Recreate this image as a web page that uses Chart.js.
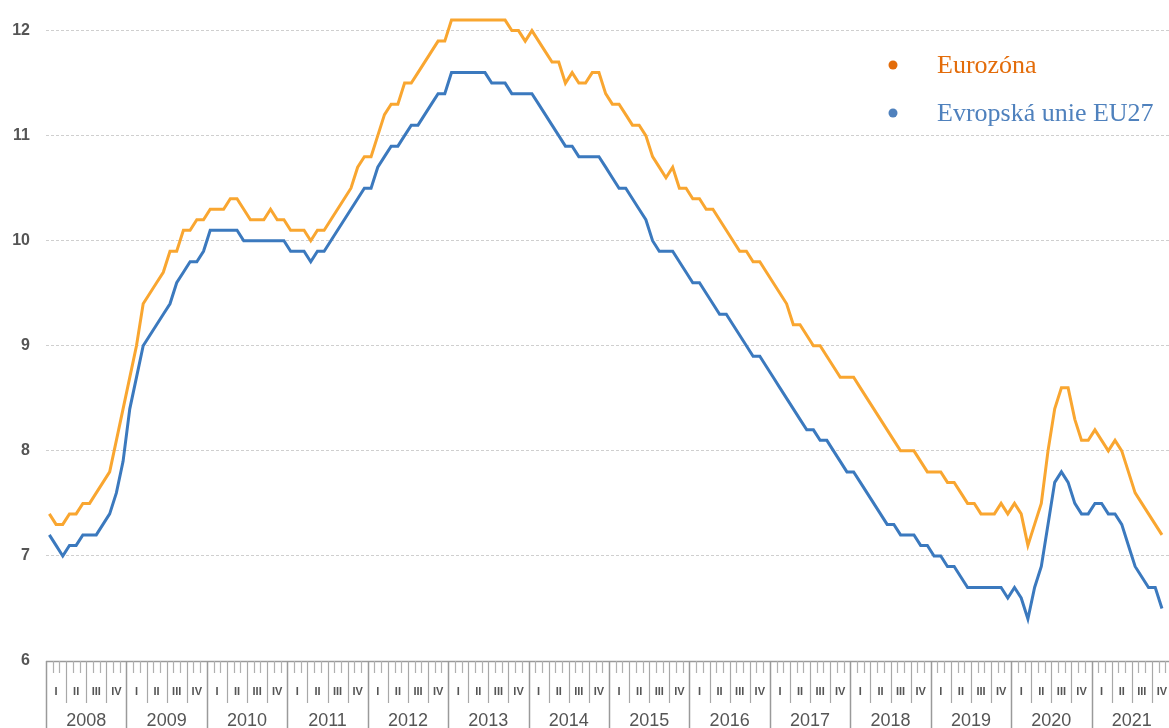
<!DOCTYPE html>
<html>
<head>
<meta charset="utf-8">
<script src="https://cdn.jsdelivr.net/npm/chart.js@4.4.1/dist/chart.umd.min.js"></script>
<style>
  html, body { margin: 0; padding: 0; background: #ffffff; overflow: hidden; width: 1169px; height: 728px; }
  #wrap { position: absolute; left: 0; top: 0; width: 1172px; height: 728px; }
</style>
</head>
<body>
<div id="wrap"><canvas id="c" width="1172" height="728"></canvas></div>
<script>
// ---- data ----
const years = [2008, 2009, 2010, 2011, 2012, 2013, 2014, 2015, 2016, 2017, 2018, 2019, 2020, 2021];
const quarterLabels = ['I', 'II', 'III', 'IV'];
const seriesNames = ['Eurozóna', 'Evropská unie EU27'];
const yTicks = [6, 7, 8, 9, 10, 11, 12];

// monthly unemployment rate, Jan 2008 – Nov 2021
const eurozone = [
  7.4, 7.3, 7.3, 7.4, 7.4, 7.5, 7.5, 7.6, 7.7, 7.8, 8.1, 8.4,
  8.7, 9.0, 9.4, 9.5, 9.6, 9.7, 9.9, 9.9, 10.1, 10.1, 10.2, 10.2,
  10.3, 10.3, 10.3, 10.4, 10.4, 10.3, 10.2, 10.2, 10.2, 10.3, 10.2, 10.2,
  10.1, 10.1, 10.1, 10.0, 10.1, 10.1, 10.2, 10.3, 10.4, 10.5, 10.7, 10.8,
  10.8, 11.0, 11.2, 11.3, 11.3, 11.5, 11.5, 11.6, 11.7, 11.8, 11.9, 11.9,
  12.1, 12.1, 12.1, 12.1, 12.1, 12.1, 12.1, 12.1, 12.1, 12.0, 12.0, 11.9,
  12.0, 11.9, 11.8, 11.7, 11.7, 11.5, 11.6, 11.5, 11.5, 11.6, 11.6, 11.4,
  11.3, 11.3, 11.2, 11.1, 11.1, 11.0, 10.8, 10.7, 10.6, 10.7, 10.5, 10.5,
  10.4, 10.4, 10.3, 10.3, 10.2, 10.1, 10.0, 9.9, 9.9, 9.8, 9.8, 9.7,
  9.6, 9.5, 9.4, 9.2, 9.2, 9.1, 9.0, 9.0, 8.9, 8.8, 8.7, 8.7,
  8.7, 8.6, 8.5, 8.4, 8.3, 8.2, 8.1, 8.0, 8.0, 8.0, 7.9, 7.8,
  7.8, 7.8, 7.7, 7.7, 7.6, 7.5, 7.5, 7.4, 7.4, 7.4, 7.5, 7.4,
  7.5, 7.4, 7.1, 7.3, 7.5, 8.0, 8.4, 8.6, 8.6, 8.3, 8.1, 8.1,
  8.2, 8.1, 8.0, 8.1, 8.0, 7.8, 7.6, 7.5, 7.4, 7.3, 7.2
];
const eu27 = [
  7.2, 7.1, 7.0, 7.1, 7.1, 7.2, 7.2, 7.2, 7.3, 7.4, 7.6, 7.9,
  8.4, 8.7, 9.0, 9.1, 9.2, 9.3, 9.4, 9.6, 9.7, 9.8, 9.8, 9.9,
  10.1, 10.1, 10.1, 10.1, 10.1, 10.0, 10.0, 10.0, 10.0, 10.0, 10.0, 10.0,
  9.9, 9.9, 9.9, 9.8, 9.9, 9.9, 10.0, 10.1, 10.2, 10.3, 10.4, 10.5,
  10.5, 10.7, 10.8, 10.9, 10.9, 11.0, 11.1, 11.1, 11.2, 11.3, 11.4, 11.4,
  11.6, 11.6, 11.6, 11.6, 11.6, 11.6, 11.5, 11.5, 11.5, 11.4, 11.4, 11.4,
  11.4, 11.3, 11.2, 11.1, 11.0, 10.9, 10.9, 10.8, 10.8, 10.8, 10.8, 10.7,
  10.6, 10.5, 10.5, 10.4, 10.3, 10.2, 10.0, 9.9, 9.9, 9.9, 9.8, 9.7,
  9.6, 9.6, 9.5, 9.4, 9.3, 9.3, 9.2, 9.1, 9.0, 8.9, 8.9, 8.8,
  8.7, 8.6, 8.5, 8.4, 8.3, 8.2, 8.2, 8.1, 8.1, 8.0, 7.9, 7.8,
  7.8, 7.7, 7.6, 7.5, 7.4, 7.3, 7.3, 7.2, 7.2, 7.2, 7.1, 7.1,
  7.0, 7.0, 6.9, 6.9, 6.8, 6.7, 6.7, 6.7, 6.7, 6.7, 6.7, 6.6,
  6.7, 6.6, 6.4, 6.7, 6.9, 7.3, 7.7, 7.8, 7.7, 7.5, 7.4, 7.4,
  7.5, 7.5, 7.4, 7.4, 7.3, 7.1, 6.9, 6.8, 6.7, 6.7, 6.5
];

// monthly categories built from the year list
const months = [];
years.forEach(y => { for (let m = 1; m <= 12; m++) months.push(y + '-' + (m < 10 ? '0' + m : m)); });

const lineColors = ['#F9A630', '#3B79BE'];
const legendColors = ['#E36C0A', '#4F81BD'];

// ---- custom multi-level x axis ----
const axisPlugin = {
  id: 'axisPlugin',
  afterDraw(chart) {
    const ctx = chart.ctx;
    const xs = chart.scales.x;
    const area = chart.chartArea;
    const w = xs.getPixelForValue(1) - xs.getPixelForValue(0);
    const b = k => xs.getPixelForValue(0) - w / 2 + k * w;
    const y0 = area.bottom;
    ctx.save();
    ctx.strokeStyle = '#9a9a9a';
    ctx.lineWidth = 1.5;
    ctx.beginPath();
    ctx.moveTo(b(0), y0 + 0.5);
    ctx.lineTo(b(months.length) + 2, y0 + 0.5);
    ctx.stroke();
    for (let k = 0; k <= months.length; k++) {
      const x = Math.round(b(k)) + 0.5;
      ctx.beginPath();
      if (k % 12 === 0) {
        ctx.strokeStyle = '#9a9a9a'; ctx.lineWidth = 1.5;
        ctx.moveTo(x, y0); ctx.lineTo(x, 728);
      } else if (k % 3 === 0) {
        ctx.strokeStyle = '#a8a8a8'; ctx.lineWidth = 1.2;
        ctx.moveTo(x, y0); ctx.lineTo(x, y0 + 42);
      } else {
        ctx.strokeStyle = '#b0b0b0'; ctx.lineWidth = 1.2;
        ctx.moveTo(x, y0); ctx.lineTo(x, y0 + 12);
      }
      ctx.stroke();
    }
    ctx.fillStyle = '#555';
    ctx.textAlign = 'center';
    ctx.textBaseline = 'middle';
    ctx.font = 'bold 11px "Liberation Sans", Arial, sans-serif';
    years.forEach((yr, yi) => {
      quarterLabels.forEach((q, qi) => {
        const k = yi * 12 + qi * 3;
        ctx.fillText(q, b(k) + 1.5 * w, y0 + 31);
      });
    });
    ctx.font = '18px "Liberation Sans", Arial, sans-serif';
    years.forEach((yr, yi) => {
      ctx.fillText(String(yr), b(yi * 12) + 6 * w, y0 + 60);
    });
    ctx.restore();
  }
};

// ---- legend (top right, custom) ----
const legendPlugin = {
  id: 'legendPlugin',
  afterDraw(chart) {
    const ctx = chart.ctx;
    ctx.save();
    ctx.font = '26px "Liberation Serif", "Times New Roman", serif';
    ctx.textAlign = 'left';
    ctx.textBaseline = 'alphabetic';
    chart.data.datasets.forEach((ds, i) => {
      const cy = 65 + i * 48;
      ctx.fillStyle = legendColors[i];
      ctx.beginPath();
      ctx.arc(893, cy, 4.5, 0, Math.PI * 2);
      ctx.fill();
      ctx.fillText(ds.label, 937, cy + 8);
    });
    ctx.restore();
  }
};

new Chart(document.getElementById('c'), {
  type: 'line',
  data: {
    labels: months,
    datasets: [
      { label: seriesNames[0], data: eurozone, borderColor: lineColors[0], borderWidth: 3, pointRadius: 0, tension: 0, fill: false, clip: false },
      { label: seriesNames[1], data: eu27, borderColor: lineColors[1], borderWidth: 3, pointRadius: 0, tension: 0, fill: false, clip: false }
    ]
  },
  options: {
    responsive: false,
    animation: false,
    devicePixelRatio: 1,
    layout: { padding: 0 },
    plugins: { legend: { display: false }, tooltip: { enabled: false } },
    scales: {
      x: {
        type: 'category',
        offset: true,
        grid: { display: false, drawTicks: false },
        border: { display: false },
        ticks: { display: false },
        afterFit(scale) { scale.height = 67; }
      },
      y: {
        min: 6,
        max: 12.0475,
        afterBuildTicks(scale) { scale.ticks = yTicks.map(v => ({ value: v })); },
        afterFit(scale) { scale.width = 46; },
        border: { display: false, dash: [3, 2] },
        grid: { color: '#cfcfcf', lineWidth: 1, drawTicks: false },
        ticks: {
          padding: 16,
          color: '#555',
          font: { family: '"Liberation Sans", Arial, sans-serif', size: 16, weight: 'bold' },
          callback: v => String(v)
        }
      }
    }
  },
  plugins: [axisPlugin, legendPlugin]
});
</script>
</body>
</html>
